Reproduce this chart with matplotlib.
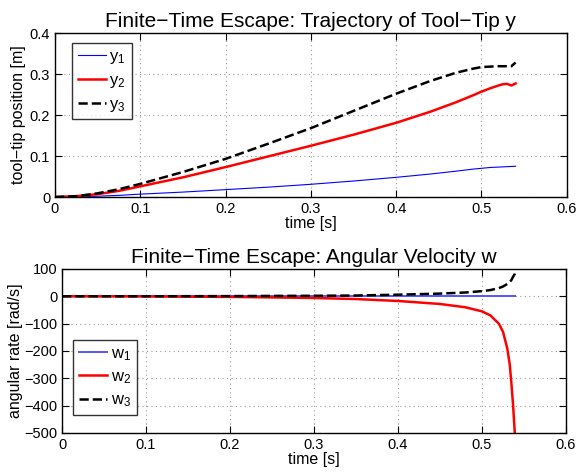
import matplotlib
matplotlib.use("Agg")
import matplotlib.pyplot as plt

plt.rcParams['font.family'] = ['Liberation Sans', 'DejaVu Sans']
plt.rcParams['mathtext.fontset'] = 'custom'
plt.rcParams['mathtext.rm'] = 'Liberation Sans'
plt.rcParams['mathtext.it'] = 'Liberation Sans'

# tool-tip position
t_pos = [0, 0.025, 0.05, 0.075, 0.1, 0.15, 0.2, 0.25, 0.3, 0.35, 0.4, 0.44,
         0.47, 0.49, 0.5, 0.51, 0.52, 0.525, 0.53, 0.535, 0.54]
y1 = [0, 0.0005, 0.002, 0.004, 0.007, 0.012, 0.018, 0.024, 0.031, 0.039,
      0.048, 0.056, 0.063, 0.068, 0.070, 0.072, 0.073, 0.0735, 0.074,
      0.0745, 0.075]
y2 = [0, 0.002, 0.007, 0.015, 0.026, 0.048, 0.073, 0.099, 0.125, 0.152,
      0.181, 0.208, 0.231, 0.248, 0.257, 0.265, 0.272, 0.275, 0.276,
      0.272, 0.277]
y3 = [0, 0.002, 0.009, 0.019, 0.032, 0.061, 0.093, 0.130, 0.168, 0.210,
      0.252, 0.283, 0.303, 0.313, 0.317, 0.318, 0.319, 0.319, 0.319,
      0.319, 0.328]

# angular velocity
t_w = [0, 0.1, 0.2, 0.25, 0.3, 0.35, 0.4, 0.45, 0.48, 0.5, 0.51, 0.52,
       0.525, 0.53, 0.533, 0.535, 0.537, 0.539, 0.5395]
w1 = [0, 0, 0, 0, 0, 0, 0, 0, 0, 0, 0, 0, 0, 0, 0, 0, 0, 0, 0]
w2 = [0, -0.5, -2, -4, -6, -10, -17, -28, -40, -55, -70, -100, -130, -190,
      -250, -320, -400, -500, -520]
w3 = [0, 0.2, 0.8, 1.5, 2, 3, 6, 10, 14, 19, 23, 30, 36, 45, 52, 60, 72,
      82, 88]

fig = plt.figure(figsize=(5.77, 4.73), dpi=100)
ax1 = fig.add_axes([0.0953, 0.5835, 0.887, 0.3467])
ax2 = fig.add_axes([0.1075, 0.0846, 0.8735, 0.3467])

def style(ax):
    ax.set_xlim(0, 0.6)
    ax.grid(True, linestyle=(0, (1, 3)), color='#999999', linewidth=0.8)
    ax.tick_params(direction='in', top=True, right=True, length=5,
                   labelsize=10.5)
    for s in ax.spines.values():
        s.set_linewidth(1.0)

ax1.plot(t_pos, y1, color='blue', lw=0.8, label='$\\mathregular{y_1}$')
ax1.plot(t_pos, y2, color='red', lw=1.8, label='$\\mathregular{y_2}$')
ax1.plot(t_pos, y3, color='black', lw=1.8, ls='--', label='$\\mathregular{y_3}$')
style(ax1)
ax1.set_ylim(0, 0.4)
ax1.set_xticks([0, 0.1, 0.2, 0.3, 0.4, 0.5, 0.6])
ax1.set_xticklabels(['0', '0.1', '0.2', '0.3', '0.4', '0.5', '0.6'])
ax1.set_yticks([0, 0.1, 0.2, 0.3, 0.4])
ax1.set_yticklabels(['0', '0.1', '0.2', '0.3', '0.4'])
ax1.set_xlabel('time [s]', fontsize=11.5, labelpad=0)
ax1.set_ylabel('tool\u2212tip position [m]', fontsize=11.5, labelpad=3)
ax1.set_title('Finite\u2212Time Escape: Trajectory of Tool\u2212Tip y',
              fontsize=15, pad=4)
leg1 = ax1.legend(loc='upper left', bbox_to_anchor=(0.033, 0.937),
                  fancybox=False, edgecolor='black', fontsize=12,
                  handlelength=1.7, handletextpad=0.2, borderpad=0.35,
                  labelspacing=0.4, borderaxespad=0)
leg1.get_frame().set_linewidth(1.0)

ax2.plot(t_w, w1, color='#5555ff', lw=1.4, label='$\\mathregular{w_1}$')
ax2.plot(t_w, w2, color='red', lw=1.8, label='$\\mathregular{w_2}$')
ax2.plot(t_w, w3, color='black', lw=1.8, ls='--', label='$\\mathregular{w_3}$')
style(ax2)
ax2.set_ylim(-500, 100)
ax2.set_xticks([0, 0.1, 0.2, 0.3, 0.4, 0.5, 0.6])
ax2.set_xticklabels(['0', '0.1', '0.2', '0.3', '0.4', '0.5', '0.6'])
ax2.set_yticks([-500, -400, -300, -200, -100, 0, 100])
ax2.set_xlabel('time [s]', fontsize=11.5, labelpad=0)
ax2.set_ylabel('angular rate [rad/s]', fontsize=11.5, labelpad=1)
ax2.set_title('Finite\u2212Time Escape: Angular Velocity w', fontsize=15, pad=4)
leg2 = ax2.legend(loc='upper left', bbox_to_anchor=(0.022, 0.567),
                  fancybox=False, edgecolor='black', fontsize=12,
                  handlelength=1.7, handletextpad=0.2, borderpad=0.35,
                  labelspacing=0.4, borderaxespad=0)
leg2.get_frame().set_linewidth(1.0)

fig.savefig('out.png', dpi=100)
